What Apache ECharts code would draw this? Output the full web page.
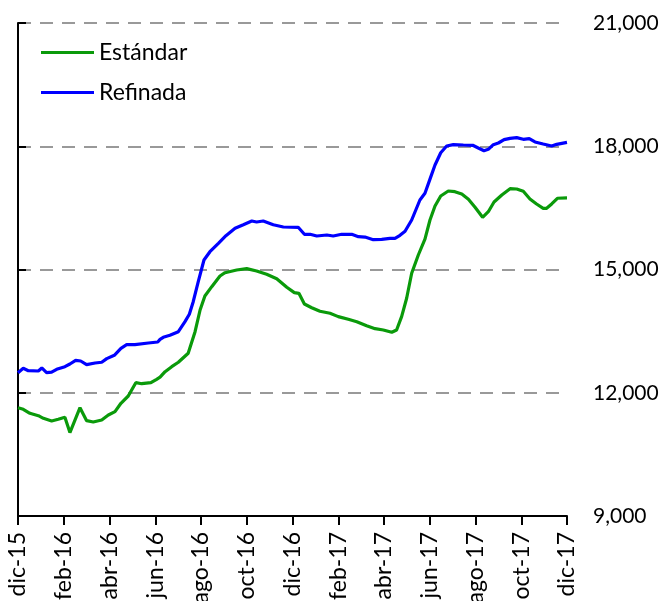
<!DOCTYPE html>
<html>
<head>
<meta charset="utf-8">
<script src="https://cdn.jsdelivr.net/npm/echarts@6/dist/echarts.min.js"></script>
<style>
html,body{margin:0;padding:0;background:#fff;}
#chart{width:670px;height:601px;}
</style>
</head>
<body>
<div id="chart"></div>
<script>
// x positions in months since dic-15
var tickLabels = ['dic-15','feb-16','abr-16','jun-16','ago-16','oct-16','dic-16','feb-17','abr-17','jun-17','ago-17','oct-17','dic-17'];

var refinadaX = [0,0.23,0.45,0.89,1.04,1.25,1.47,1.69,2.05,2.27,2.52,2.74,3.00,3.37,3.66,3.88,4.21,4.50,4.75,5.11,5.70,6.11,6.21,6.35,6.64,7.01,7.30,7.49,7.66,7.88,8.13,8.39,8.76,9.09,9.49,9.85,10.22,10.43,10.72,11.16,11.60,12.25,12.52,12.77,13.06,13.50,13.78,14.15,14.59,14.88,15.17,15.53,15.90,16.26,16.48,16.70,16.92,17.21,17.57,17.79,18.01,18.23,18.48,18.74,19.03,19.47,19.88,20.12,20.37,20.56,20.78,21.00,21.25,21.51,21.80,22.09,22.35,22.60,22.96,23.33,23.55,24];
var refinadaY = [12488,12595,12537,12530,12603,12488,12500,12570,12635,12700,12790,12773,12683,12724,12742,12830,12912,13082,13170,13170,13211,13235,13300,13350,13398,13486,13730,13910,14217,14703,15232,15433,15638,15823,16003,16090,16180,16156,16180,16090,16035,16027,15857,15857,15815,15840,15815,15857,15857,15799,15790,15726,15735,15759,15759,15832,15930,16205,16692,16855,17200,17544,17843,18006,18038,18030,18023,17958,17892,17925,18038,18079,18160,18193,18209,18169,18185,18104,18055,18006,18047,18096];

var estandarX = [0,0.23,0.52,0.89,1.11,1.47,1.76,2.05,2.27,2.71,3.00,3.29,3.66,3.95,4.24,4.50,4.82,5.15,5.41,5.81,6.06,6.21,6.43,6.72,7.01,7.44,7.74,7.96,8.17,8.47,8.83,9.05,9.56,10.00,10.43,10.87,11.31,11.75,12.08,12.28,12.52,12.84,13.20,13.64,14.00,14.44,14.81,15.24,15.61,15.97,16.34,16.55,16.77,16.99,17.21,17.50,17.79,18.01,18.23,18.48,18.81,19.10,19.40,19.69,19.98,20.31,20.56,20.81,21.15,21.51,21.80,22.09,22.38,22.67,22.96,23.11,23.33,23.58,24];
var estandarY = [11636,11597,11500,11442,11378,11313,11354,11403,11030,11636,11320,11288,11337,11459,11540,11744,11921,12245,12220,12245,12328,12380,12513,12635,12742,12962,13486,14014,14355,14582,14842,14922,14988,15020,14964,14883,14776,14567,14436,14420,14160,14070,13983,13934,13853,13789,13730,13633,13560,13528,13472,13528,13853,14300,14908,15353,15740,16205,16546,16789,16911,16894,16838,16709,16514,16270,16407,16643,16814,16967,16960,16903,16716,16595,16490,16490,16595,16734,16741];

var yMin = 9000, yMax = 21000, yStep = 3000;

function pairs(xs, ys){ return xs.map(function(x,i){ return [x, ys[i]]; }); }

var chart = echarts.init(document.getElementById('chart'), null, {renderer:'canvas'});
var font = 'Lato, "Open Sans", sans-serif';
chart.setOption({
  animation:false,
  backgroundColor:'#fff',
  grid:{left:18, right:103, top:23, bottom:85, containLabel:false, outerBoundsMode:'none'},
  legend:{
    left:41, top:41, orient:'vertical', padding:0,
    itemWidth:53, itemHeight:3, itemGap:17, icon:'rect',
    textStyle:{fontFamily:font, fontSize:23, color:'#000', lineHeight:23},
    data:['Estándar','Refinada']
  },
  xAxis:{
    type:'value', min:0, max:24, interval:2,
    axisLine:{show:true, onZero:false, lineStyle:{color:'#000', width:2}},
    axisTick:{show:true, length:9, lineStyle:{color:'#000', width:2}},
    splitLine:{show:false},
    axisLabel:{
      rotate:90, margin:16, fontFamily:font, fontSize:23, color:'#000',
      showMinLabel:true, showMaxLabel:true, hideOverlap:false,
      formatter:function(v){ var i = Math.round(v/2); return tickLabels[i] || ''; }
    }
  },
  yAxis:{
    type:'value', position:'right', min:yMin, max:yMax, interval:yStep,
    axisLine:{show:true, lineStyle:{color:'#000', width:2}},
    axisTick:{show:true, length:8, lineStyle:{color:'#000', width:2}},
    splitLine:{show:true, lineStyle:{color:'#999', width:2, type:[13,9]}},
    axisLabel:{
      margin:26, align:'left', fontFamily:font, fontSize:21, color:'#000',
      formatter:function(v){ return v.toLocaleString('en-US'); }
    }
  },
  series:[
    {name:'Estándar', type:'line', data:pairs(estandarX, estandarY), showSymbol:false, symbol:'none',
     lineStyle:{color:'#0a9a0a', width:3.2}, itemStyle:{color:'#0a9a0a'}, z:3},
    {name:'Refinada', type:'line', data:pairs(refinadaX, refinadaY), showSymbol:false, symbol:'none',
     lineStyle:{color:'#0000ff', width:3.2}, itemStyle:{color:'#0000ff'}, z:3}
  ]
});
</script>
</body>
</html>
